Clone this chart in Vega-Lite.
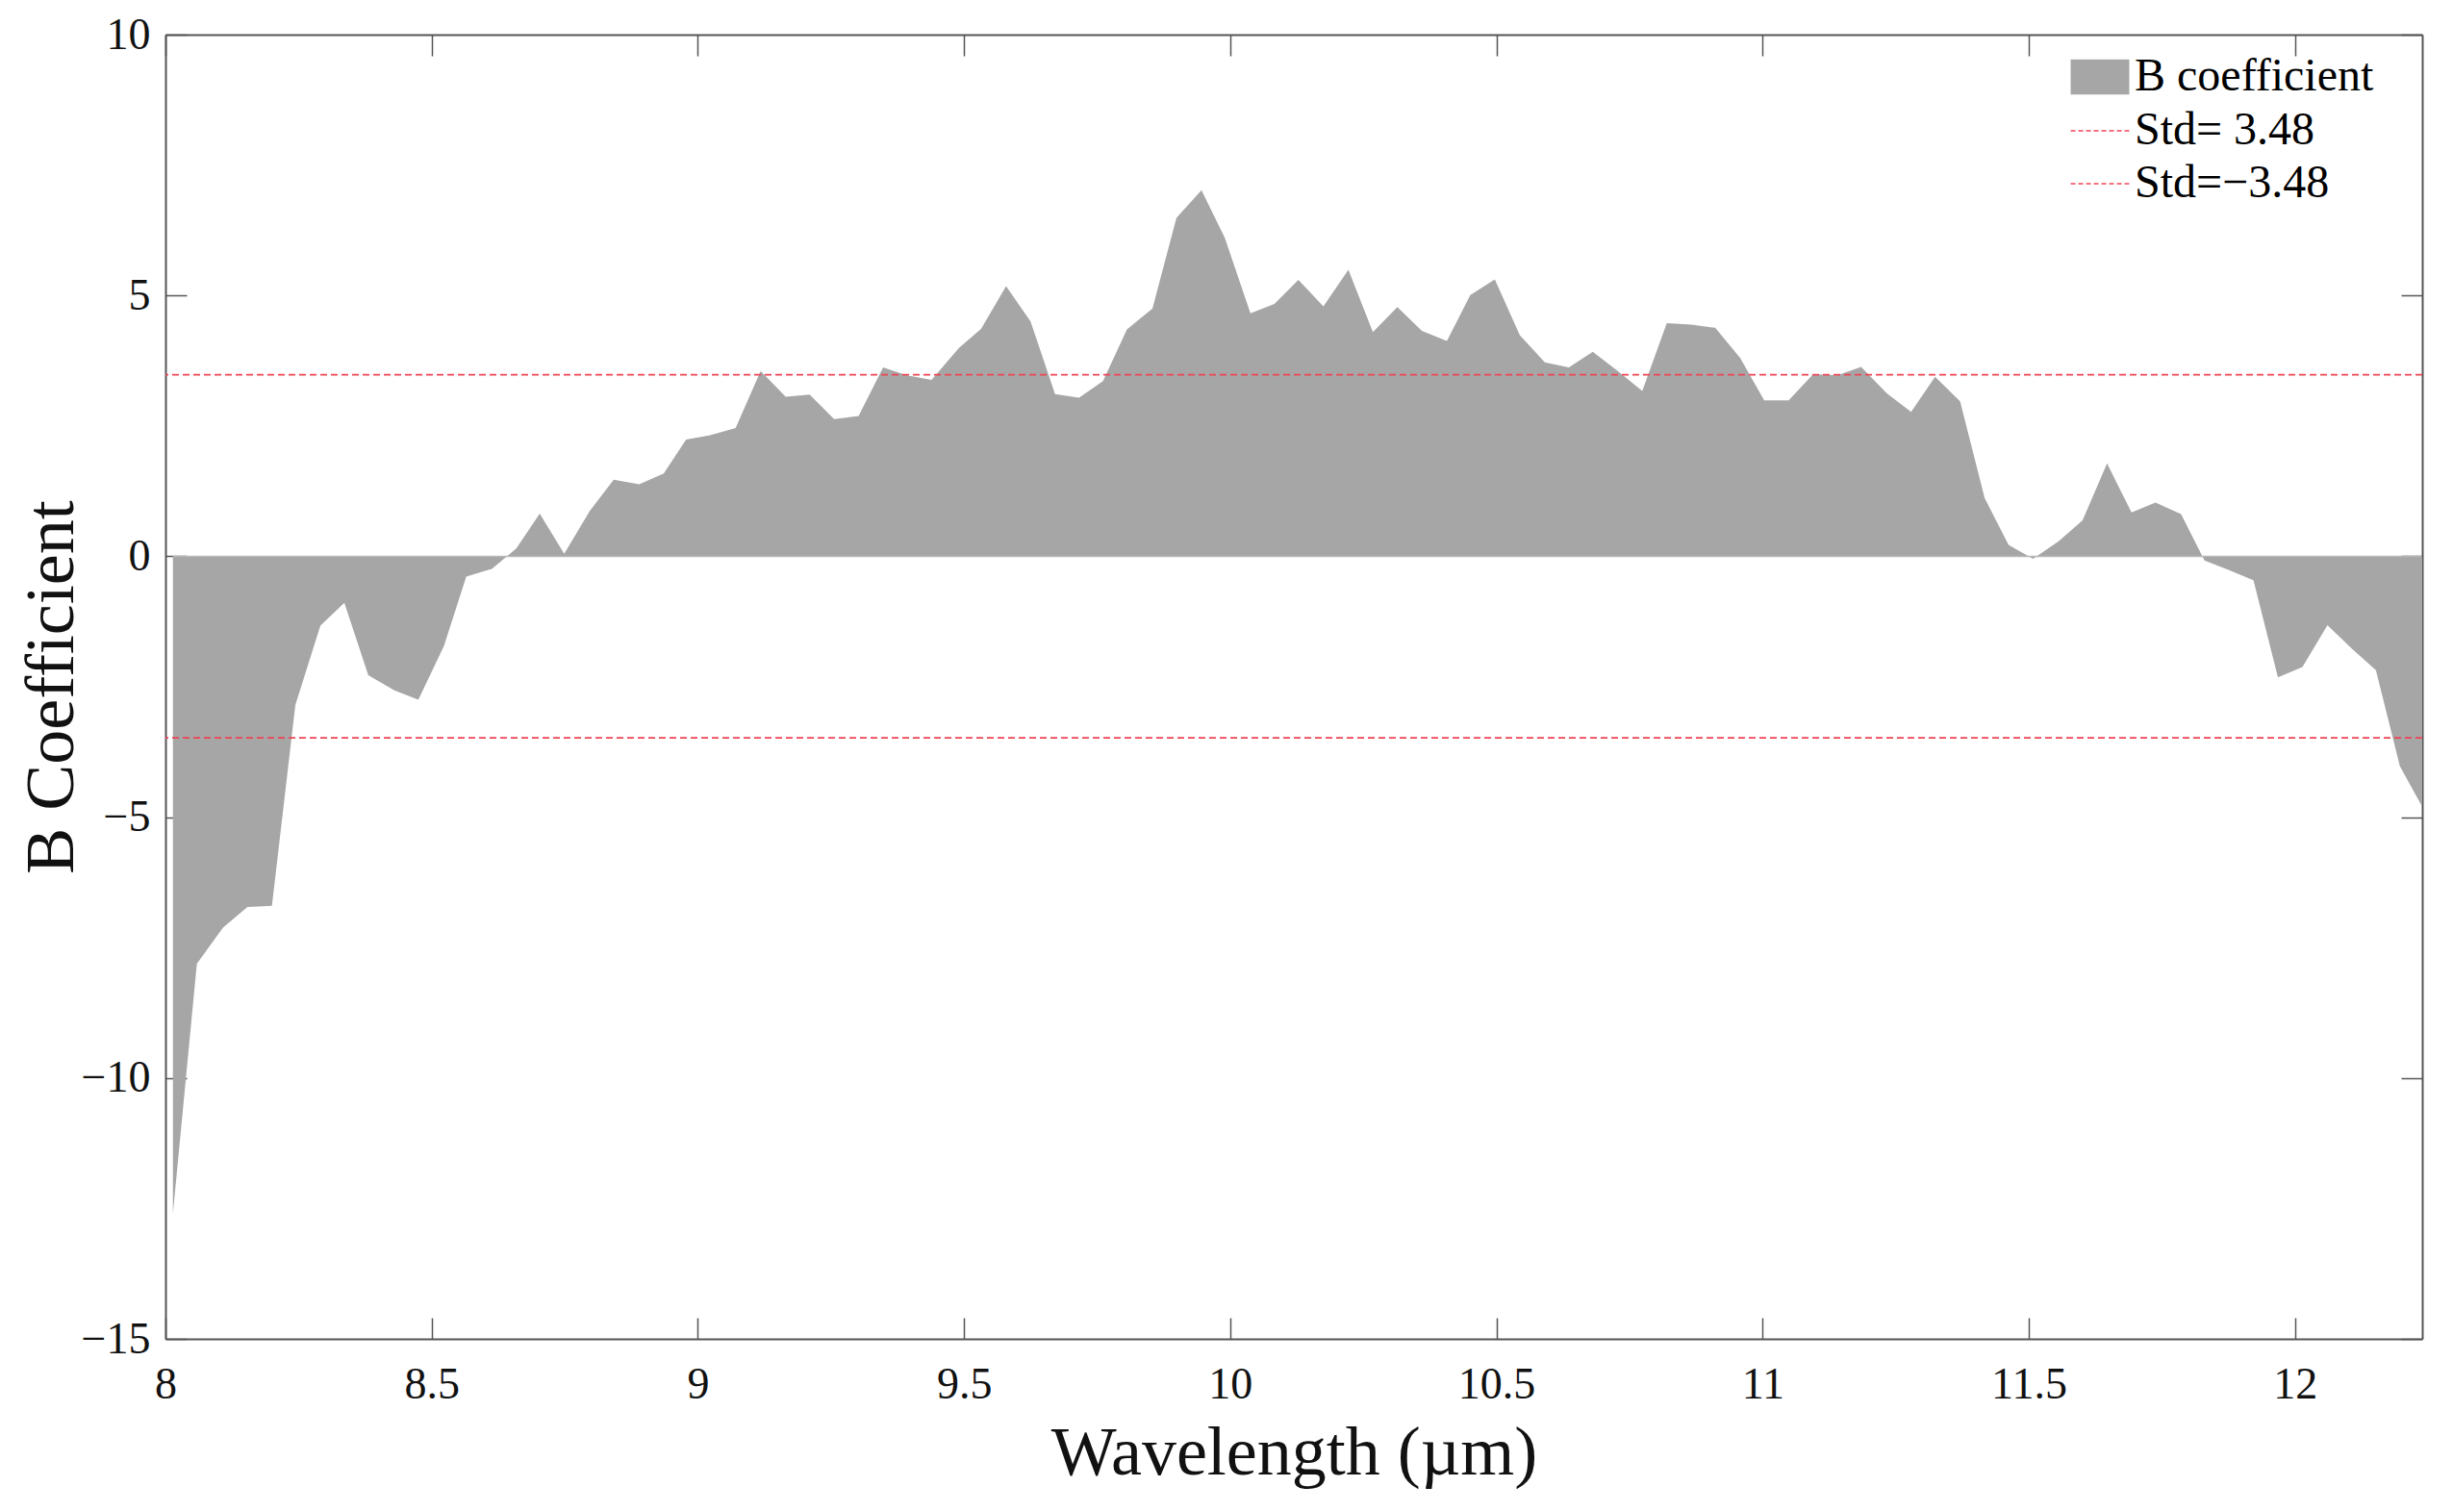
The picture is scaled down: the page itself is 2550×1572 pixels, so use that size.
{
  "$schema": "https://vega.github.io/schema/vega-lite/v6.json",
  "width": 2346,
  "height": 1356,
  "autosize": {"type": "none"},
  "padding": {"left": 172, "top": 36, "right": 32, "bottom": 180},
  "background": "white",
  "config": {"view": {"stroke": null}, "font": "Liberation Serif"},
  "datasets": {
    "bcoef": [
      {"wavelength": 8.014, "b": -12.6, "series": "B coefficient"},
      {"wavelength": 8.059, "b": -7.81, "series": "B coefficient"},
      {"wavelength": 8.108, "b": -7.12, "series": "B coefficient"},
      {"wavelength": 8.154, "b": -6.72, "series": "B coefficient"},
      {"wavelength": 8.200, "b": -6.70, "series": "B coefficient"},
      {"wavelength": 8.244, "b": -2.85, "series": "B coefficient"},
      {"wavelength": 8.291, "b": -1.33, "series": "B coefficient"},
      {"wavelength": 8.336, "b": -0.89, "series": "B coefficient"},
      {"wavelength": 8.381, "b": -2.28, "series": "B coefficient"},
      {"wavelength": 8.430, "b": -2.57, "series": "B coefficient"},
      {"wavelength": 8.475, "b": -2.75, "series": "B coefficient"},
      {"wavelength": 8.523, "b": -1.72, "series": "B coefficient"},
      {"wavelength": 8.565, "b": -0.39, "series": "B coefficient"},
      {"wavelength": 8.613, "b": -0.24, "series": "B coefficient"},
      {"wavelength": 8.659, "b": 0.15, "series": "B coefficient"},
      {"wavelength": 8.703, "b": 0.82, "series": "B coefficient"},
      {"wavelength": 8.749, "b": 0.05, "series": "B coefficient"},
      {"wavelength": 8.797, "b": 0.87, "series": "B coefficient"},
      {"wavelength": 8.842, "b": 1.47, "series": "B coefficient"},
      {"wavelength": 8.890, "b": 1.38, "series": "B coefficient"},
      {"wavelength": 8.936, "b": 1.59, "series": "B coefficient"},
      {"wavelength": 8.978, "b": 2.24, "series": "B coefficient"},
      {"wavelength": 9.023, "b": 2.32, "series": "B coefficient"},
      {"wavelength": 9.071, "b": 2.46, "series": "B coefficient"},
      {"wavelength": 9.118, "b": 3.55, "series": "B coefficient"},
      {"wavelength": 9.165, "b": 3.06, "series": "B coefficient"},
      {"wavelength": 9.210, "b": 3.10, "series": "B coefficient"},
      {"wavelength": 9.256, "b": 2.63, "series": "B coefficient"},
      {"wavelength": 9.302, "b": 2.69, "series": "B coefficient"},
      {"wavelength": 9.348, "b": 3.62, "series": "B coefficient"},
      {"wavelength": 9.393, "b": 3.47, "series": "B coefficient"},
      {"wavelength": 9.439, "b": 3.38, "series": "B coefficient"},
      {"wavelength": 9.490, "b": 3.99, "series": "B coefficient"},
      {"wavelength": 9.532, "b": 4.36, "series": "B coefficient"},
      {"wavelength": 9.579, "b": 5.18, "series": "B coefficient"},
      {"wavelength": 9.625, "b": 4.50, "series": "B coefficient"},
      {"wavelength": 9.671, "b": 3.11, "series": "B coefficient"},
      {"wavelength": 9.716, "b": 3.04, "series": "B coefficient"},
      {"wavelength": 9.761, "b": 3.36, "series": "B coefficient"},
      {"wavelength": 9.806, "b": 4.35, "series": "B coefficient"},
      {"wavelength": 9.854, "b": 4.75, "series": "B coefficient"},
      {"wavelength": 9.899, "b": 6.49, "series": "B coefficient"},
      {"wavelength": 9.946, "b": 7.02, "series": "B coefficient"},
      {"wavelength": 9.990, "b": 6.10, "series": "B coefficient"},
      {"wavelength": 10.038, "b": 4.66, "series": "B coefficient"},
      {"wavelength": 10.083, "b": 4.84, "series": "B coefficient"},
      {"wavelength": 10.128, "b": 5.30, "series": "B coefficient"},
      {"wavelength": 10.175, "b": 4.79, "series": "B coefficient"},
      {"wavelength": 10.222, "b": 5.49, "series": "B coefficient"},
      {"wavelength": 10.268, "b": 4.30, "series": "B coefficient"},
      {"wavelength": 10.314, "b": 4.78, "series": "B coefficient"},
      {"wavelength": 10.360, "b": 4.32, "series": "B coefficient"},
      {"wavelength": 10.407, "b": 4.13, "series": "B coefficient"},
      {"wavelength": 10.451, "b": 5.01, "series": "B coefficient"},
      {"wavelength": 10.497, "b": 5.31, "series": "B coefficient"},
      {"wavelength": 10.544, "b": 4.24, "series": "B coefficient"},
      {"wavelength": 10.591, "b": 3.72, "series": "B coefficient"},
      {"wavelength": 10.636, "b": 3.62, "series": "B coefficient"},
      {"wavelength": 10.681, "b": 3.92, "series": "B coefficient"},
      {"wavelength": 10.728, "b": 3.55, "series": "B coefficient"},
      {"wavelength": 10.774, "b": 3.17, "series": "B coefficient"},
      {"wavelength": 10.820, "b": 4.47, "series": "B coefficient"},
      {"wavelength": 10.866, "b": 4.44, "series": "B coefficient"},
      {"wavelength": 10.911, "b": 4.38, "series": "B coefficient"},
      {"wavelength": 10.958, "b": 3.80, "series": "B coefficient"},
      {"wavelength": 11.003, "b": 2.99, "series": "B coefficient"},
      {"wavelength": 11.049, "b": 2.99, "series": "B coefficient"},
      {"wavelength": 11.095, "b": 3.49, "series": "B coefficient"},
      {"wavelength": 11.140, "b": 3.47, "series": "B coefficient"},
      {"wavelength": 11.185, "b": 3.63, "series": "B coefficient"},
      {"wavelength": 11.234, "b": 3.12, "series": "B coefficient"},
      {"wavelength": 11.279, "b": 2.77, "series": "B coefficient"},
      {"wavelength": 11.324, "b": 3.44, "series": "B coefficient"},
      {"wavelength": 11.371, "b": 2.97, "series": "B coefficient"},
      {"wavelength": 11.417, "b": 1.12, "series": "B coefficient"},
      {"wavelength": 11.462, "b": 0.22, "series": "B coefficient"},
      {"wavelength": 11.508, "b": -0.05, "series": "B coefficient"},
      {"wavelength": 11.556, "b": 0.29, "series": "B coefficient"},
      {"wavelength": 11.601, "b": 0.69, "series": "B coefficient"},
      {"wavelength": 11.647, "b": 1.78, "series": "B coefficient"},
      {"wavelength": 11.693, "b": 0.84, "series": "B coefficient"},
      {"wavelength": 11.738, "b": 1.03, "series": "B coefficient"},
      {"wavelength": 11.786, "b": 0.81, "series": "B coefficient"},
      {"wavelength": 11.830, "b": -0.08, "series": "B coefficient"},
      {"wavelength": 11.875, "b": -0.26, "series": "B coefficient"},
      {"wavelength": 11.922, "b": -0.46, "series": "B coefficient"},
      {"wavelength": 11.968, "b": -2.32, "series": "B coefficient"},
      {"wavelength": 12.014, "b": -2.12, "series": "B coefficient"},
      {"wavelength": 12.061, "b": -1.32, "series": "B coefficient"},
      {"wavelength": 12.107, "b": -1.77, "series": "B coefficient"},
      {"wavelength": 12.152, "b": -2.18, "series": "B coefficient"},
      {"wavelength": 12.197, "b": -4.02, "series": "B coefficient"},
      {"wavelength": 12.238, "b": -4.78, "series": "B coefficient"}
    ],
    "stdlines": [
      {"std": 3.48, "series": "Std= 3.48"},
      {"std": -3.48, "series": "Std=−3.48"}
    ]
  },
  "resolve": {"axis": {"x": "independent", "y": "independent"}},
  "layer": [
    {
      "data": {"name": "bcoef"},
      "mark": {"type": "area", "opacity": 1, "interpolate": "linear"},
      "encoding": {
        "x": {
          "field": "wavelength", "type": "quantitative",
          "scale": {"domain": [8, 12.239], "nice": false, "zero": false},
          "axis": {
            "orient": "bottom", "values": [8, 8.5, 9, 9.5, 10, 10.5, 11, 11.5, 12], "format": "~g",
            "grid": false, "tickSize": -22, "tickColor": "#555", "tickWidth": 1.5,
            "domainColor": "#555", "domainWidth": 2,
            "labelFont": "Liberation Serif", "labelFontSize": 46, "labelColor": "#111",
            "labelPadding": 47, "labelFlush": false, "labelOverlap": false,
            "title": "Wavelength (µm)", "titleFont": "Liberation Serif", "titleFontSize": 72,
            "titleFontWeight": "normal", "titleColor": "#111",
            "titleX": 1173, "titleY": 140, "titleBaseline": "alphabetic", "titleAlign": "center"
          }
        },
        "y": {
          "field": "b", "type": "quantitative",
          "scale": {"domain": [-15, 10], "nice": false, "zero": false},
          "axis": {
            "orient": "left", "values": [-15, -10, -5, 0, 5, 10], "format": "~g",
            "grid": false, "tickSize": -22, "tickColor": "#555", "tickWidth": 1.5,
            "domainColor": "#555", "domainWidth": 2,
            "labelFont": "Liberation Serif", "labelFontSize": 46, "labelColor": "#111",
            "labelPadding": 38, "labelFlush": false, "labelOverlap": false,
            "title": "B Coefficient", "titleFont": "Liberation Serif", "titleFontSize": 72,
            "titleFontWeight": "normal", "titleColor": "#111", "titleAngle": 270,
            "titleX": -97, "titleY": 678, "titleBaseline": "alphabetic", "titleAlign": "center"
          }
        },
        "y2": {"datum": 0},
        "fill": {
          "field": "series", "type": "nominal",
          "scale": {"domain": ["B coefficient"], "range": ["#a6a6a6"]},
          "legend": {
            "orient": "none", "legendX": 1987, "legendY": 20, "title": null, "padding": 0,
            "labelFont": "Liberation Serif", "labelFontSize": 48, "labelColor": "#000",
            "labelOffset": 12, "labelLimit": 0, "symbolSize": 900,
            "symbolStrokeWidth": 0, "symbolOpacity": 1, "symbolType": "M-2.03,-1.22H2.03V1.22H-2.03Z"
          }
        }
      }
    },
    {
      "data": {"name": "bcoef"},
      "mark": {"type": "line", "color": "#b8b8b8", "strokeWidth": 1.5},
      "encoding": {
        "x": {
          "field": "wavelength", "type": "quantitative",
          "axis": {
            "orient": "top", "values": [8, 8.5, 9, 9.5, 10, 10.5, 11, 11.5, 12],
            "grid": false, "tickSize": -22, "tickColor": "#555", "tickWidth": 1.5,
            "domainColor": "#555", "domainWidth": 2, "labels": false, "title": null
          }
        },
        "y": {
          "datum": 0,
          "axis": {
            "orient": "right", "values": [-15, -10, -5, 0, 5, 10],
            "grid": false, "tickSize": -22, "tickColor": "#555", "tickWidth": 1.5,
            "domainColor": "#555", "domainWidth": 2, "labels": false, "title": null
          }
        }
      }
    },
    {
      "data": {"name": "stdlines"},
      "mark": {"type": "rule", "strokeDash": [7, 4], "strokeWidth": 1.8},
      "encoding": {
        "y": {"field": "std", "type": "quantitative", "axis": null},
        "stroke": {
          "field": "series", "type": "nominal",
          "scale": {"domain": ["Std= 3.48", "Std=−3.48"], "range": ["#ee4455", "#ee4455"]},
          "legend": {
            "orient": "none", "legendX": 1987, "legendY": 76, "title": null, "padding": 0,
            "labelFont": "Liberation Serif", "labelFontSize": 48, "labelColor": "#000",
            "labelOffset": 12, "labelLimit": 0, "rowPadding": 7, "symbolSize": 900,
            "symbolStrokeWidth": 1.5, "symbolDash": [5, 3], "symbolOpacity": 1,
            "symbolFillColor": "transparent", "symbolType": "M-2.03,0H2.03"
          }
        }
      }
    }
  ]
}
